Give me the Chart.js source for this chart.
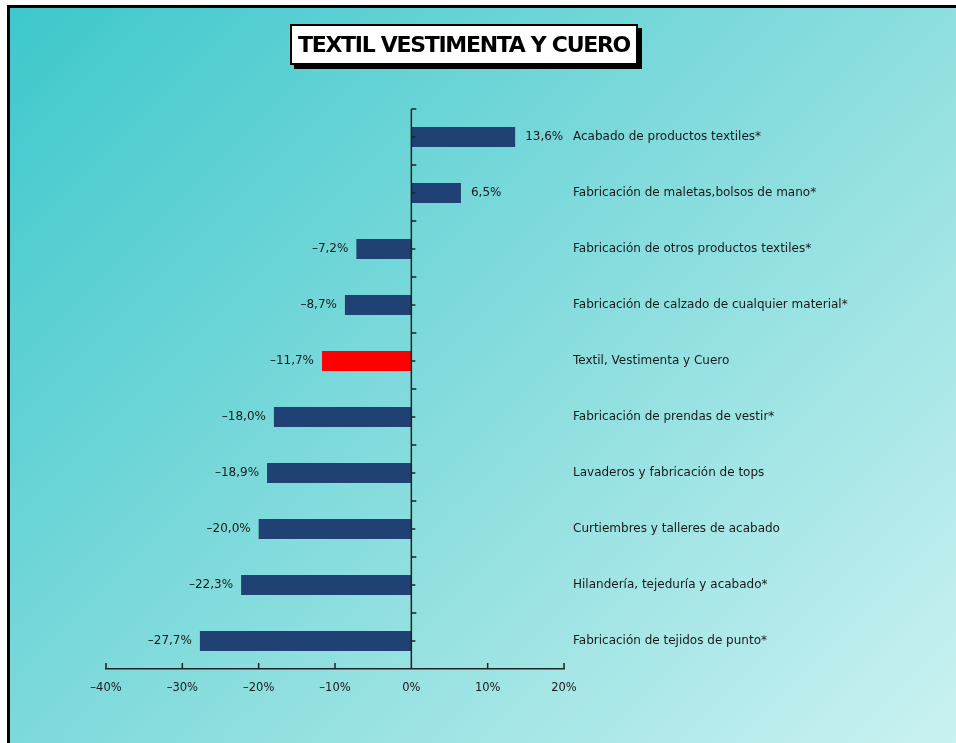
<!DOCTYPE html>
<html>
<head>
<meta charset="utf-8">
<script src="https://cdn.jsdelivr.net/npm/chart.js@4"></script>
<style>
  body { margin: 0; width: 956px; height: 743px; overflow: hidden; position: relative; background: #fff; }
  #frame {
    position: absolute; left: 7px; top: 5px; width: 960px; height: 735px;
    border-left: 3px solid #000; border-top: 3px solid #000; border-bottom: 2px solid #000;
    background: linear-gradient(135deg, #3ec8cc 0%, #86dcdd 50%, #ccf2f2 100%);
  }
  #titleBox {
    position: absolute; left: 290px; top: 24px; width: 344px; height: 37px;
    background: #fff; border: 2px solid #000; box-shadow: 4px 4px 0 #000;
    font-family: "DejaVu Sans", sans-serif; font-weight: bold; font-size: 22px;
    letter-spacing: -1.3px; line-height: 37px; text-align: center; color: #000;
  }
  canvas { position: absolute; left: 0; top: 0; }
</style>
</head>
<body>
<div id="frame"></div>
<canvas id="chart" width="956" height="743"></canvas>
<div id="titleBox">TEXTIL VESTIMENTA Y CUERO</div>
<script>
const categories = [
  "Acabado de productos textiles*",
  "Fabricación de maletas,bolsos de mano*",
  "Fabricación de otros productos textiles*",
  "Fabricación de calzado de cualquier material*",
  "Textil, Vestimenta y Cuero",
  "Fabricación de prendas de vestir*",
  "Lavaderos y fabricación de tops",
  "Curtiembres y talleres de acabado",
  "Hilandería, tejeduría y acabado*",
  "Fabricación de tejidos de punto*"
];
const values = [13.6, 6.5, -7.2, -8.7, -11.7, -18.0, -18.9, -20.0, -22.3, -27.7];
const totalLabel = "Textil, Vestimenta y Cuero";
const xTicks = [-40, -30, -20, -10, 0, 10, 20];

const barColors = categories.map(c => c === totalLabel ? "#ff0000" : "#1f4174");
const fmt = v => v.toFixed(1).replace(".", ",").replace("-", "\u2013") + "%";
const textFont = '12px "DejaVu Sans", sans-serif';

const axisPlugin = {
  id: "axisPlugin",
  afterDatasetsDraw(chart) {
    const ctx = chart.ctx;
    const xs = chart.scales.x, ys = chart.scales.y;
    const area = chart.chartArea;
    const x0 = xs.getPixelForValue(0);
    const band = (area.bottom - area.top) / categories.length;
    ctx.save();
    ctx.strokeStyle = "#222";
    ctx.lineWidth = 1.5;
    ctx.beginPath();
    ctx.moveTo(x0, area.top);
    ctx.lineTo(x0, area.bottom);
    for (let i = 0; i < categories.length; i++) {
      const yb = area.top + i * band;
      ctx.moveTo(x0, yb); ctx.lineTo(x0 + 5, yb);
      const yc = ys.getPixelForValue(i);
      ctx.moveTo(x0, yc); ctx.lineTo(x0 + 4, yc);
    }
    xTicks.forEach(t => {
      const px = xs.getPixelForValue(t);
      ctx.moveTo(px, area.bottom); ctx.lineTo(px, area.bottom - 6);
    });
    ctx.stroke();

    ctx.font = textFont;
    ctx.fillStyle = "#1a1a1a";
    ctx.textBaseline = "middle";
    values.forEach((v, i) => {
      const y = ys.getPixelForValue(i);
      const xe = xs.getPixelForValue(v);
      if (v >= 0) { ctx.textAlign = "left"; ctx.fillText(fmt(v), xe + 10, y); }
      else { ctx.textAlign = "right"; ctx.fillText(fmt(v), xe - 8, y); }
      ctx.textAlign = "left";
      ctx.fillText(categories[i], area.right + 9, y);
    });
    ctx.restore();
  }
};

new Chart(document.getElementById("chart"), {
  type: "bar",
  data: {
    labels: categories,
    datasets: [{
      data: values,
      backgroundColor: barColors,
      barPercentage: 0.36,
      categoryPercentage: 1
    }]
  },
  options: {
    indexAxis: "y",
    responsive: false,
    animation: false,
    devicePixelRatio: 1,
    layout: { padding: { left: 106, right: 392, top: 109, bottom: 34 } },
    plugins: { legend: { display: false }, tooltip: { enabled: false }, title: { display: false } },
    scales: {
      x: {
        min: -40, max: 20,
        afterFit: s => { s.height = 40; },
        afterBuildTicks: s => { s.ticks = xTicks.map(v => ({ value: v })); },
        grid: { display: false, drawTicks: false },
        border: { display: true, color: "#222", width: 1.5 },
        ticks: {
          padding: 12,
          color: "#1a1a1a",
          font: { family: '"DejaVu Sans", sans-serif', size: 11.5 },
          callback: v => String(v).replace("-", "\u2013") + "%"
        }
      },
      y: { display: false }
    }
  },
  plugins: [axisPlugin]
});
</script>
</body>
</html>
